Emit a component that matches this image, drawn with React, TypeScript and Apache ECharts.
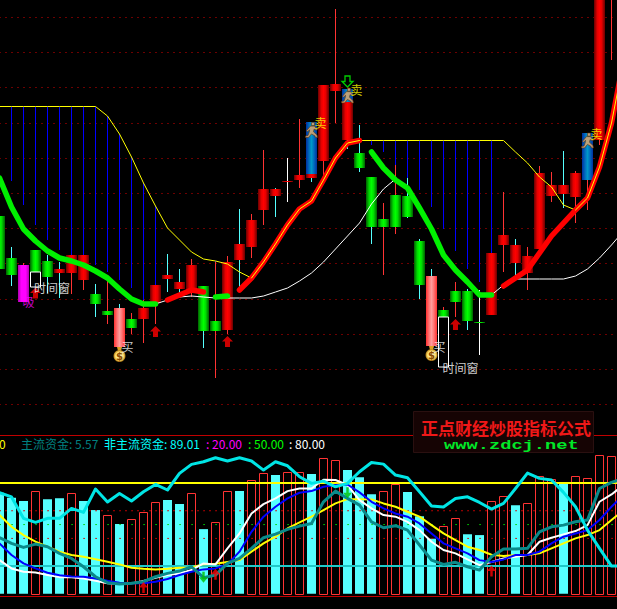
import React, { useEffect, useRef } from "react";
import * as echarts from "echarts";

const categories = Array.from({ length: 53 }, (_, i) => `D${i + 1}`);
const bodyHigh = [188.5,146.5,139.5,154.5,143.5,135.5,149.5,149.5,110.5,93.5,96.5,85.5,96.5,119.5,129.5,122.5,139.5,118.5,83.5,142.5,160.5,184.5,215.5,215.5,223.5,229.5,282.5,319.5,320.5,315.5,251.5,227.5,185.5,209.5,208.5,163.5,128.5,94.5,113.5,113.5,82.5,151.5,169.5,159.5,148.5,231.5,219.5,219.5,231.5,271.5,430,480];
const bodyLow = [135.5,129.5,102.5,132.5,127.5,131.5,131.5,124.5,100.5,89.5,57.5,76.5,85.5,101.5,125.5,115.5,114.5,73.5,73.5,74.5,144.5,157.5,194.5,208.5,222.5,224.5,226.5,243.5,313.5,264.5,236.5,177.5,177.5,177.5,187.5,119.5,58.5,87.5,102.5,83.5,81.5,89.5,159.5,141.5,131.5,155.5,208.5,210.5,207.5,224.5,264.5,420];
const wickHigh = [188.5,157.5,141.5,154.5,149.5,142.5,149.5,149.5,120.5,125.5,100.5,91.5,104.5,119.5,150.5,135.5,145.5,118.5,142.5,148.5,195.5,190.5,254.5,216.5,246.5,285.5,282.5,319.5,395.5,315.5,279.5,227.5,201.5,239.5,226.5,165.5,135.5,97.5,122.5,115.5,114.5,151.5,212.5,165.5,157.5,238.5,232.5,253.5,233.5,271.5,430,480];
const wickLow = [135.5,118.5,102.5,132.5,111.5,106.5,110.5,114.5,87.5,80.5,57.5,70.5,61.5,80.5,112.5,110.5,107.5,56.5,26.5,70.5,117.5,146.5,179.5,187.5,202.5,216.5,222.5,227.5,281.5,255.5,232.5,160.5,129.5,170.5,186.5,105.5,58.5,87.5,87.5,74.5,49.5,89.5,132.5,129.5,114.5,155.5,202.5,196.5,181.5,194.5,259.5,344.5];
const bodyKinds = "ggmggrrrggpgrrrrrggrrrrrrrrrrrggggggpggggrrrrrrrrrrr".slice(0, 52);
const wickKindsByIndex = ["c","c","r","c","c","c","r","r","c","r","c","r","r","r","c","c","r","c","r","r","c","r","r","c","w","r","c","r","r","c","c","c","r","r","c","c","c","r","r","c","w","r","r","c","r","r","r","c","r","r","r","r"];
const sellBands = [[26, 282.5, 230.5], [29, 315.5, 302.5], [49, 271.5, 224.5]];
const timeWindows = [[3, 132.5, 117.5], [37, 87.5, 37.5]];
const bags = [[10, 48.5], [36, 49.5]];

const blueLow = [null,223.5,199.5,179.5,164.5,154.5,149.5,149.5,139.5,132.5,124.5,116.5,104.5,107.5,null,null,null,null,107.5,108.5,null,null,null,null,null,null,null,null,null,null,null,259.5,252.5,239.5,226.5,214.5,197.5,175.5,153.5,135.5,122.5,112.5];
const upperBand = [298,298,298,298,298,298,298,298,298,288.5,270.5,247.5,221.5,198.5,176.5,164.5,152.5,145.5,143.5,140.5,132.5,126.5,142.5,160.5,179.5,195.5,203.5,224.5,246.5,261.5,264,264,264,264,264,264,264,264,264,264,264,264,264,252.5,241.5,227.5,217.5,199.5,194.5,206.5,237.5,281.5,343.5];
const lowerThin = [null,null,null,null,null,null,null,null,null,null,null,null,null,100.5,104.5,107.5,108.5,107.5,106.5,106.5,106.5,106.5,108.5,112.5,116.5,123.5,131.5,142.5,155.5,168.5,181.5,200.5,215.5,225.5,null,null,null,null,null,null,null,109.5,119.5,125.5,125.5,125.5,125.5,125.5,128.5,135.5,146.5,159.5,173.5];
const greenTrend = [226.5,197.5,175.5,163.5,153.5,146.5,143.5,139.5,133.5,126.5,115.5,105.5,100.5,100.5,null,null,null,null,107.5,108.5,null,null,null,null,null,null,null,null,null,null,null,252.5,236.5,224.5,216.5,196.5,175.5,149.5,134.5,122.5,109.5,109.5];
const redTrend = [null,null,null,null,null,null,null,null,null,null,null,null,null,null,104.5,109.5,114.5,112.5,null,null,114.5,126.5,142.5,160.5,179.5,195.5,203.5,224.5,246.5,261.5,264,null,null,null,null,null,null,null,null,null,null,null,118.5,126.5,134.5,151.5,168.5,181.5,194.5,206.5,237.5,281.5,343.5];
const upArrows = [[3, 111.5], [13, 73], [19, 63], [38, 80]];
const sellPeople = [[26, 274.5], [29, 309], [49, 264]];
const holdArrow = [[29, 323]];
const buyLabels = [[10, 58.5], [36, 58.5]];
const sellLabels = [[26, 282.5], [29, 315.5], [49, 271.5]];
const absorbLabel = [[2, 103]];
const windowLabels = [[3, 117.5, 16.5], [37, 37.5, 17]];

const filledBars = [73,69.4,67,null,68.4,69,null,67,60.5,null,50.4,null,null,null,67.7,64.8,null,46.7,null,null,74.2,null,null,85.8,null,null,86.5,null,null,89.4,84.3,72,null,null,73.5,56,39.8,null,null,43,42.4,null,null,64,null,null,null,79.3,null,null,null,null];
const hollowBars = [null,null,null,74,null,null,73,null,null,56.6,null,53.7,58.8,66,null,null,72.5,null,51.6,74,null,82,87,null,87.7,87.7,null,97.8,96.4,null,null,null,74,79,null,null,null,48.7,55,null,null,66.7,70.4,null,65.3,84.8,82.7,null,84.8,84,100,99.3];
const mainFlow = [40.5,36.4,33.5,35.9,34,29.2,25.5,19.5,12.3,8,7,7.5,8.7,12.3,14.7,16.4,19.5,11.6,13.5,21.9,25.5,32.8,40.5,43.1,46.5,48.9,50.8,66.5,74.2,68.9,64.1,52,47.7,49.2,46,35.2,24.3,21.2,22.7,19.5,17.1,26.7,32.3,32.3,32.8,44.8,48.4,49.6,52,53.3,76.1,80.5,83.4];
const otherFlow = [73,70,54.5,51.6,54.5,54.5,61.7,58.8,75.7,66.3,72.5,67,73.7,79,75,87,93.5,95.4,98.3,96,98.3,96,89.4,95.4,92.5,84.6,79.8,81.4,77.3,79.8,88.2,94.9,93.7,85.8,83.9,73.7,63.4,62.7,68.9,70.1,66,61.2,65.3,76.1,87.2,83.4,82.2,73.3,62.9,46,32.8,20,20];
const blueLine = [36.4,28,21.9,18.3,15.2,13.3,12.5,12.3,11,9.4,8,7.5,7.5,8.7,10.6,13.5,15.9,17.6,18.3,21.2,30.4,44.8,55.7,62.9,68.9,73,74.2,77.3,78.6,79,73.3,66.5,61.7,58,55.7,50.8,43.6,36.4,32.8,29.2,24.3,23,24.8,28,28,30.4,36.4,41.2,43.6,46,53.3,62.9,71.3];
const whiteLine = [24.3,18.3,15.9,15.4,13.5,12,12,11,9.4,7.5,7,7.5,9.2,11.6,13.5,14.7,17.1,21.9,21.2,32.8,43.6,58,64.8,68.9,74.2,76.1,76.1,82.4,82.2,78.6,67.7,61.7,56.9,55.7,52,46,37.6,31.6,29.2,24.8,20.7,23,25.5,26.7,28,37.6,40.5,42.9,45.3,49.6,66.5,71.8,78.6];
const yellowLine = [56.9,48.4,42.4,37.6,34,30.4,28,26.7,25,23.1,21.2,18.8,18,17.6,18,18.8,19,21.4,21.7,23,24.3,30.4,36.4,41.2,47.2,51.6,55.7,60.5,65.3,68.4,68.4,68.2,65.3,62.9,59.3,55.7,49.6,43.6,38.8,34,31.6,28.2,27.2,28,28,29.2,32.8,36.4,40,42.4,46,53.3,60.5];
const lowerUp = [[12, 4.5], [18, 14], [41, 16.5]];
const lowerDown = [[17, 12], [29, 73]];
const levels = { upper: 80, mid: 50, lower: 20, redA: 60, redB: 40 };

const headerItems: [string, number, string][] = [
  ["0", -1, "#ffff00"],
  ["主流资金: 5.57", 21, "#008080"],
  ["非主流资金: 89.01", 104, "#00ffff"],
  [": 20.00", 206, "#ff00ff"],
  [": 50.00", 248, "#00ff00"],
  [": 80.00", 289, "#ffffff"],
];
const watermarkTitle = "正点财经炒股指标公式";
const watermarkUrl = "www.zdcj.net";

const FONT = '"Noto Sans CJK SC", sans-serif';
const ARROW_UP = "path://M5.5 0L11 5.5L8 5.5L8 11L3 11L3 5.5L0 5.5Z";
const ARROW_DOWN = "path://M3 0L8 0L8 5.5L11 5.5L5.5 11L0 5.5L3 5.5Z";
const PERSON = "path://M6 0.5L9 0.5L9 3.5L6 3.5ZM5 4L9 4L11 6.5L12 7L11.5 8L8.5 7L8 9.5L11.5 12.5L12 15L10 15L9.5 13.5L6 11.5L3 15L0 15L0 13.5L2.5 13L4 9L4 7.5L2 9.5L1 8.5Z";

function cylinder(edge: string, mid: string, centre: string) {
  return new echarts.graphic.LinearGradient(0, 0, 1, 0, [
    { offset: 0, color: edge },
    { offset: 0.3, color: mid },
    { offset: 0.5, color: centre },
    { offset: 0.7, color: mid },
    { offset: 1, color: edge },
  ]);
}

const range = (n: number, v: number) => Array.from({ length: n }, () => v);

function line(data: any[], color: string, width: number, axis: number, dash?: any) {
  return {
    type: "line",
    data,
    xAxisIndex: axis,
    yAxisIndex: axis,
    symbol: "none",
    silent: true,
    lineStyle: { color, width, type: dash || "solid", cap: "round", join: "round" },
  };
}

function textMark(points: number[][], text: string, color: string, dx: number) {
  return {
    type: "scatter",
    data: points.map((p) => [p[0], p[1]]),
    xAxisIndex: 0,
    yAxisIndex: 0,
    symbolSize: 1,
    z: 9,
    itemStyle: { color: "transparent" },
    label: { show: true, position: "inside", formatter: text, color, fontSize: 12, fontFamily: FONT, offset: [dx, 0] },
  };
}

export default function App() {
  const ref = useRef<HTMLDivElement>(null);
  useEffect(() => {
    const chart = echarts.init(ref.current!, undefined, { renderer: "svg" });
    const fills: Record<string, any> = {
      r: cylinder("#6a0000", "#e60000", "#ff0000"),
      g: cylinder("#006000", "#00dc00", "#00ff00"),
      p: cylinder("#ff3030", "#ff7878", "#ff9c9c"),
      m: cylinder("#b000b0", "#ff00ff", "#ff00ff"),
      b: cylinder("#0030a0", "#0070c0", "#0098c8"),
    };
    const wicks: Record<string, string> = { c: "#55ffff", r: "#ff3333", w: "#ffffff" };

    const renderCandle = (_: any, api: any) => {
      const k = api.value(0);
      const cx = api.coord([k, 0])[0];
      const y = (v: number) => api.coord([k, v])[1];
      const children: any[] = [
        { type: "line", shape: { x1: cx, y1: y(wickHigh[k]), x2: cx, y2: y(wickLow[k]) }, style: { stroke: wicks[wickKindsByIndex[k]], lineWidth: 1 } },
        { type: "rect", shape: { x: cx - 5.5, y: y(bodyHigh[k]), width: 11, height: Math.max(1, y(bodyLow[k]) - y(bodyHigh[k])) }, style: { fill: fills[bodyKinds[k]] } },
      ];
      sellBands.filter((s) => s[0] === k).forEach((s) => {
        children.push({ type: "rect", shape: { x: cx - 5.5, y: y(s[1]), width: 11, height: y(s[2]) - y(s[1]) }, style: { fill: fills.b } });
      });
      return { type: "group", children };
    };

    const renderBlue = (_: any, api: any) => {
      const k = api.value(0);
      const cx = api.coord([k, 0])[0];
      return { type: "line", shape: { x1: cx, y1: api.coord([k, upperBand[k]])[1], x2: cx, y2: api.coord([k, blueLow[k]])[1] }, style: { stroke: "#0000ff", lineWidth: 1 } };
    };

    const renderWindow = (_: any, api: any) => {
      const p1 = api.coord([api.value(0), api.value(1)]);
      const p2 = api.coord([api.value(0), api.value(2)]);
      return { type: "rect", shape: { x: p1[0] - 5, y: p1[1], width: 10, height: p2[1] - p1[1] }, style: { fill: "none", stroke: "#ffffff", lineWidth: 1 } };
    };

    const renderHollow = (_: any, api: any) => {
      const k = api.value(0);
      const top = api.coord([k, api.value(1)]);
      const base = api.coord([k, 0]);
      const y1 = Math.round(top[1]) + 0.5;
      const y2 = Math.round(base[1]) + 0.5;
      return { type: "rect", shape: { x: top[0] - 4, y: y1, width: 8, height: y2 - y1 }, style: { fill: "none", stroke: "#ff3333", lineWidth: 1 } };
    };

    const renderBag = (_: any, api: any) => {
      const p = api.coord([api.value(0), api.value(1)]);
      return {
        type: "group",
        children: [
          { type: "polygon", shape: { points: [[p[0] - 2.5, p[1] - 9], [p[0] + 2.5, p[1] - 9], [p[0] + 1.5, p[1] - 5], [p[0] - 1.5, p[1] - 5]] }, style: { fill: "#e0a020" } },
          { type: "circle", shape: { cx: p[0], cy: p[1], r: 6 }, style: { fill: new echarts.graphic.RadialGradient(0.5, 0.5, 0.5, [{ offset: 0, color: "#fff6c8" }, { offset: 0.65, color: "#ffe070" }, { offset: 1, color: "#b07810" }]) } },
          { type: "text", style: { text: "$", x: p[0], y: p[1], fill: "#8a4a00", font: 'bold 10px "DejaVu Sans"', align: "center", verticalAlign: "middle" } },
        ],
      };
    };

    const core = upperBand.map((v, i) => (redTrend[i] !== null && redTrend[i] === v ? v : null));
    const n = categories.length;

    const option: any = {
      animation: false,
      backgroundColor: "#000000",
      grid: [
        { left: -6.5, top: -17.9, width: 636, height: 422.4, outerBoundsMode: "none" },
        { left: -6.5, top: 435.5, width: 636, height: 161, outerBoundsMode: "none", show: true, backgroundColor: "transparent", borderColor: "#c00000", borderWidth: 1 },
      ],
      xAxis: [
        { type: "category", data: categories, gridIndex: 0, show: false, boundaryGap: true },
        { type: "category", data: categories, gridIndex: 1, show: false, boundaryGap: true },
      ],
      yAxis: [
        {
          type: "value", gridIndex: 0, min: 0, max: 422.4, interval: 35.2,
          axisLine: { show: false }, axisTick: { show: false }, axisLabel: { show: false },
          splitLine: { show: true, lineStyle: { color: "#d80000", width: 1, type: [1, 5] } },
        },
        {
          type: "value", gridIndex: 1, min: -2, max: 114.4,
          axisLine: { show: false }, axisTick: { show: false }, axisLabel: { show: false }, splitLine: { show: false },
        },
      ],
      series: [
        { type: "custom", xAxisIndex: 0, yAxisIndex: 0, z: 2, data: blueLow.map((v, i) => (v === null ? null : [i, v])).filter(Boolean), renderItem: renderBlue },
        { type: "custom", xAxisIndex: 0, yAxisIndex: 0, z: 3, data: bodyHigh.map((v, i) => [i, v]), renderItem: renderCandle },
        { ...line(lowerThin, "#ffffff", 1, 0), z: 4 },
        { ...line(upperBand, "#ffff00", 1, 0), z: 4 },
        { ...line(greenTrend, "#00f000", 5.5, 0), z: 5 },
        { ...line(redTrend, "#ff0000", 5.5, 0), z: 5 },
        { ...line(core, "#ffff00", 1, 0), z: 6 },
        { type: "custom", xAxisIndex: 0, yAxisIndex: 0, z: 7, data: timeWindows, renderItem: renderWindow },
        { type: "custom", xAxisIndex: 0, yAxisIndex: 0, z: 8, data: bags, renderItem: renderBag },
        { type: "scatter", xAxisIndex: 0, yAxisIndex: 0, z: 8, data: upArrows, symbol: ARROW_UP, symbolSize: [11, 11], itemStyle: { color: "#ff0000" } },
        { type: "scatter", xAxisIndex: 0, yAxisIndex: 0, z: 8, data: holdArrow, symbol: ARROW_DOWN, symbolSize: [11, 11], itemStyle: { color: "transparent", borderColor: "#00ff00", borderWidth: 1.3 } },
        { type: "scatter", xAxisIndex: 0, yAxisIndex: 0, z: 8, data: sellPeople, symbol: PERSON, symbolSize: [12, 15], itemStyle: { color: "#eaa868", borderColor: "#5a3008", borderWidth: 0.7 } },
        textMark(buyLabels, "买", "#ffffff", 8),
        textMark(sellLabels, "卖", "#ffff00", 9),
        textMark(absorbLabel, "吸", "#ff00ff", 5),
        ...windowLabels.map((p) => textMark([p], "时间窗", "#ffffff", p[2])),

        { type: "bar", xAxisIndex: 1, yAxisIndex: 1, data: filledBars, barWidth: 9, itemStyle: { color: "#55ffff" } },
        { type: "custom", xAxisIndex: 1, yAxisIndex: 1, z: 2, data: hollowBars.map((v, i) => (v === null ? null : [i, v])).filter(Boolean), renderItem: renderHollow },
        line(range(n, levels.redA), "#d00000", 1, 1, [1, 5]),
        line(range(n, levels.redB), "#d00000", 1, 1, [1, 11]),
        line(range(n, levels.mid), "#00d000", 1, 1, [1, 11]),
        { ...line(range(n, levels.upper), "#ffff00", 2, 1), z: 3 },
        { ...line(range(n, levels.lower), "#20c8c8", 2, 1), z: 3 },
        { ...line(yellowLine, "#ffff00", 2, 1), z: 4 },
        { ...line(whiteLine, "#ffffff", 2, 1), z: 4 },
        { ...line(blueLine, "#0000ff", 2, 1), z: 4 },
        { ...line(mainFlow, "#0a8a8a", 3, 1), z: 5 },
        { ...line(otherFlow, "#00e5e5", 3, 1), z: 5 },
        { type: "scatter", xAxisIndex: 1, yAxisIndex: 1, z: 6, data: lowerUp, symbol: "path://M5.5 0L11 6L7 6L7 12L4 12L4 6L0 6Z", symbolSize: [9, 11], itemStyle: { color: "#ff0000" } },
        { type: "scatter", xAxisIndex: 1, yAxisIndex: 1, z: 6, data: lowerDown, symbol: "path://M4 0L7 0L7 6L11 6L5.5 12L0 6L4 6Z", symbolSize: [9, 11], itemStyle: { color: "#00c000" } },
      ],
      graphic: [
        ...headerItems.map(([text, x, color]) => ({ type: "text", x, y: 443.5, z: 20, style: { text, fill: color, font: `12px ${FONT}`, verticalAlign: "middle" } })),
        { type: "rect", z: 30, shape: { x: 413.5, y: 411.5, width: 180, height: 41 }, style: { fill: "#160404", stroke: "#2a1010", lineWidth: 1 } },
        { type: "text", z: 31, x: 421, y: 427, style: { text: watermarkTitle, fill: "#f01818", font: `bold 17px ${FONT}`, verticalAlign: "middle" } },
        { type: "text", z: 31, x: 444, y: 445.5, scaleX: 1.44, style: { text: watermarkUrl, fill: "#00e828", font: 'bold 13px "Liberation Mono"', verticalAlign: "middle" } },
      ],
    };
    chart.setOption(option);
    return () => chart.dispose();
  }, []);
  return <div ref={ref} style={{ position: "absolute", left: 0, top: 0, width: 617, height: 609, background: "#000" }} />;
}
